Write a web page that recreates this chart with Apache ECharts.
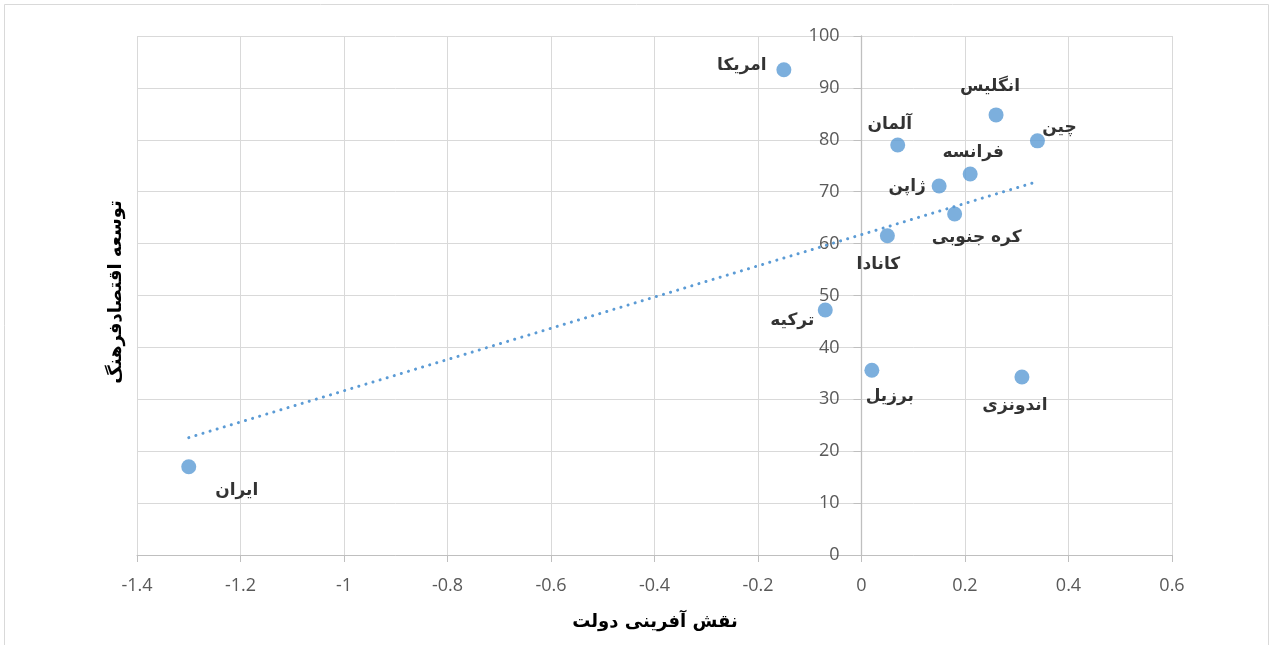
<!DOCTYPE html>
<html><head><meta charset="utf-8">
<script src="https://cdn.jsdelivr.net/npm/echarts@6/dist/echarts.min.js"></script>
<style>html,body{margin:0;padding:0;background:#fff}#c{width:1273px;height:645px}</style>
</head><body><div id="c"></div>
<script>
const countries = ['امریکا','انگلیس','چین','آلمان','فرانسه','ژاپن','کره جنوبی','کانادا','ترکیه','برزیل','اندونزی','ایران'];
const governmentRole = [-0.15, 0.26, 0.34, 0.07, 0.21, 0.15, 0.18, 0.05, -0.07, 0.02, 0.31, -1.30];
const economicCulturalDev = [93.5, 84.8, 79.8, 79.0, 73.4, 71.1, 65.7, 61.5, 47.2, 35.6, 34.3, 17.0];
const xTicks = {min:-1.4, max:0.6, step:0.2};
const yTicks = {min:0, max:100, step:10};
const xAxisTitle = 'نقش آفرینی دولت';
const yAxisTitle = 'توسعه اقتصادفرهنگ';

// label placement (pixel offsets from the point)
const labelOffsets = {
  'امریکا': [-42, -4], 'انگلیس': [-6, -28], 'چین': [22, -13], 'آلمان': [-8, -20],
  'فرانسه': [3, -21], 'ژاپن': [-32, 1], 'کره جنوبی': [22, 24], 'کانادا': [-9, 29],
  'ترکیه': [-33, 11], 'برزیل': [18, 26], 'اندونزی': [-7, 29], 'ایران': [48, 24]
};

// least squares linear trendline
const n = governmentRole.length;
const mx = governmentRole.reduce((a,b)=>a+b,0)/n;
const my = economicCulturalDev.reduce((a,b)=>a+b,0)/n;
let sxy=0, sxx=0;
for (let i=0;i<n;i++){ sxy += (governmentRole[i]-mx)*(economicCulturalDev[i]-my); sxx += (governmentRole[i]-mx)**2; }
const slope = sxy/sxx, icpt = my - slope*mx;
const xmin = Math.min(...governmentRole), xmax = Math.max(...governmentRole);
const trend = [[xmin, icpt+slope*xmin],[xmax, icpt+slope*xmax]];

const pts = countries.map((c,i)=>({
  name:c, value:[governmentRole[i], economicCulturalDev[i]],
  label:{offset: labelOffsets[c]}
}));

const W = 1273, gl = 137, gr = 101;
const plotW = W - gl - gr;
// y axis crosses the x axis at zero
const yAxisOffset = -((0 - xTicks.min)/(xTicks.max - xTicks.min))*plotW;

const chart = echarts.init(document.getElementById('c'));
chart.setOption({
  animation:false,
  grid:{left:gl, right:gr, top:36, bottom:90},
  xAxis:{type:'value', min:xTicks.min, max:xTicks.max, interval:xTicks.step,
    axisLine:{onZero:false, lineStyle:{color:'#bfbfbf', width:1}},
    axisTick:{show:true, length:7, lineStyle:{color:'#bfbfbf'}},
    axisLabel:{color:'#595959', fontFamily:'Open Sans', fontSize:18, margin:22,
      formatter:v=>String(Math.round(v*10)/10)},
    splitLine:{lineStyle:{color:'#d9d9d9', width:1}}},
  yAxis:{type:'value', min:yTicks.min, max:yTicks.max, interval:yTicks.step,
    position:'left', offset:yAxisOffset,
    axisLine:{show:true, onZero:false, lineStyle:{color:'#bfbfbf', width:1.3}},
    axisTick:{show:true, length:8, lineStyle:{color:'#bfbfbf'}},
    axisLabel:{color:'#595959', fontFamily:'Open Sans', fontSize:18, margin:22},
    splitLine:{lineStyle:{color:'#d9d9d9', width:1}}},
  graphic:[
    {type:'rect', shape:{x:4.5, y:4.5, width:1264, height:660}, style:{fill:'none', stroke:'#d9d9d9', lineWidth:1}, silent:true},
    {type:'text', x:655, y:622, style:{text:xAxisTitle, font:'bold 18px "DejaVu Sans"', fill:'#000', align:'center', verticalAlign:'middle'}},
    {type:'text', x:116, y:292, rotation:Math.PI/2, style:{text:yAxisTitle, font:'bold 18px "DejaVu Sans"', fill:'#000', align:'center', verticalAlign:'middle'}}
  ],
  series:[
    {type:'line', data:trend, showSymbol:false, symbol:'none', z:2,
      lineStyle:{color:'#5b9bd5', width:3, type:[0.1,7.3], cap:'round'}},
    {type:'scatter', data:pts, symbolSize:15, z:3,
      itemStyle:{color:'#5b9bd5'},
      label:{show:true, position:'inside', formatter:p=>p.name, color:'#000',
        fontFamily:'DejaVu Sans', fontWeight:'bold', fontSize:17}}
  ]
});
</script></body></html>
